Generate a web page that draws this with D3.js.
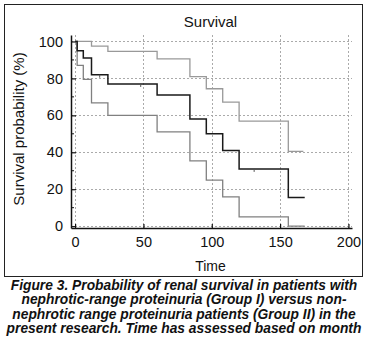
<!DOCTYPE html>
<html>
<head>
<meta charset="utf-8">
<script src="https://cdn.jsdelivr.net/npm/d3@7"></script>
<style>
body { margin: 0; background: #fff; }
text { font-family: "Liberation Sans", Arial, sans-serif; }
</style>
</head>
<body>
<script>
var width = 369;
var height = 351;

// step times (months) and survival levels
var survTimes = [0, 1.5, 6, 12, 24, 60, 84, 96, 108, 120, 156, 168];
var survMid   = [100, 95, 91, 82, 77, 71, 58, 50, 41, 31, 15.5, 15.5];
var upperTimes = [0, 12, 24, 60, 84, 96, 108, 120, 156, 167];
var survUpper  = [100, 97.5, 94.6, 90.6, 81, 74.4, 67.2, 56.9, 40.5, 40.5];
var lowerTimes = [0, 1.5, 6, 12, 24, 60, 84, 96, 108, 120, 156, 168];
var survLower  = [100, 87, 79.5, 66.7, 60, 51, 35.3, 24.9, 15.8, 5, 0, 0];
var censorTimes = [18, 48, 131];
var censorLevels = [82, 77, 31];

var xTicks = [0, 50, 100, 150, 200];
var yTicks = [0, 20, 40, 60, 80, 100];
var yMinor = [10, 30, 50, 70, 90];

var caption = [
  "Figure 3. Probability of renal survival in patients with",
  "nephrotic-range proteinuria (Group I) versus non-",
  "nephrotic range proteinuria patients (Group II) in the",
  "present research. Time has assessed based on month"
];

var svg = d3.select("body")
.append("svg")
.attr("width", width)
.attr("height", height);

svg.append("rect")
  .attr("x", 4.5).attr("y", 4.5)
  .attr("width", 358).attr("height", 272)
  .attr("fill", "none")
  .attr("stroke", "#222")
  .attr("stroke-width", 1);

var x = d3.scaleLinear().domain([-3, 202.6]).range([71, 352]);
var y = d3.scaleLinear().domain([-1, 103.5]).range([228, 35]);

// grid
svg.selectAll(".hgrid").data(yTicks).enter().append("line")
  .attr("x1", x(-3)).attr("x2", x(202.6))
  .attr("y1", d => Math.round(y(d)) + 0.5).attr("y2", d => Math.round(y(d)) + 0.5)
  .attr("stroke", "#aaa").attr("stroke-dasharray", "2,2");
svg.selectAll(".vgrid").data(xTicks).enter().append("line")
  .attr("y1", y(103.5)).attr("y2", y(-1))
  .attr("x1", d => Math.round(x(d)) + 0.5).attr("x2", d => Math.round(x(d)) + 0.5)
  .attr("stroke", "#aaa").attr("stroke-dasharray", "2,2");

// axes
var xAxis = d3.axisBottom(x).tickValues(xTicks).tickSizeInner(-4).tickSizeOuter(0).tickPadding(9);
var yAxis = d3.axisLeft(y).tickValues(yTicks).tickSizeInner(-5).tickSizeOuter(0).tickPadding(8);

var gx = svg.append("g").attr("transform", "translate(0," + y(-1) + ")").call(xAxis);
var gy = svg.append("g").attr("transform", "translate(" + x(-3) + ",0)").call(yAxis);
[gx, gy].forEach(function(g) {
  g.select(".domain").attr("stroke", "#111").attr("stroke-width", 1.5);
  g.selectAll(".tick line").attr("stroke", "#111").attr("stroke-width", 1.2);
  g.selectAll(".tick text").attr("font-size", 14.5).attr("fill", "#111")
    .style("font-family", "'Liberation Sans', Arial, sans-serif");
});
gy.selectAll(".minor").data(yMinor).enter().append("line")
  .attr("x1", 0).attr("x2", 3)
  .attr("y1", d => y(d)).attr("y2", d => y(d))
  .attr("stroke", "#111");

// curves
var line = d3.line().x(d => x(d[0])).y(d => y(d[1])).curve(d3.curveStepAfter);
function pts(t, v) { return t.map((d, i) => [d, v[i]]); }

svg.append("path").attr("d", line(pts(upperTimes, survUpper)))
  .attr("fill", "none").attr("stroke", "#999").attr("stroke-width", 1.3);
svg.append("path").attr("d", line(pts(lowerTimes, survLower)))
  .attr("fill", "none").attr("stroke", "#808080").attr("stroke-width", 1.3);
svg.append("path").attr("d", line(pts(survTimes, survMid)))
  .attr("fill", "none").attr("stroke", "#1a1a1a").attr("stroke-width", 1.5);

svg.selectAll(".censor").data(censorTimes).enter().append("line")
  .attr("x1", d => x(d)).attr("x2", d => x(d))
  .attr("y1", (d, i) => y(censorLevels[i])).attr("y2", (d, i) => y(censorLevels[i]) + 3)
  .attr("stroke", "#555");

// titles
svg.append("text").attr("x", 210.5).attr("y", 26.5).attr("text-anchor", "middle")
  .attr("font-size", 15).attr("fill", "#111").text("Survival");
svg.append("text").attr("x", 210.5).attr("y", 271).attr("text-anchor", "middle")
  .attr("font-size", 14).attr("fill", "#111").text("Time");
svg.append("text")
  .attr("transform", "translate(24," + 129 + ") rotate(-90)")
  .attr("text-anchor", "middle")
  .attr("font-size", 15).attr("fill", "#111").text("Survival probability (%)");

svg.selectAll(".cap").data(caption).enter().append("text")
  .attr("x", 184).attr("y", (d, i) => 290 + i * 14.3)
  .attr("text-anchor", "middle")
  .attr("font-size", 13.8).attr("font-weight", "bold").attr("font-style", "italic")
  .attr("fill", "#111")
  .text(d => d);
</script>
</body>
</html>
